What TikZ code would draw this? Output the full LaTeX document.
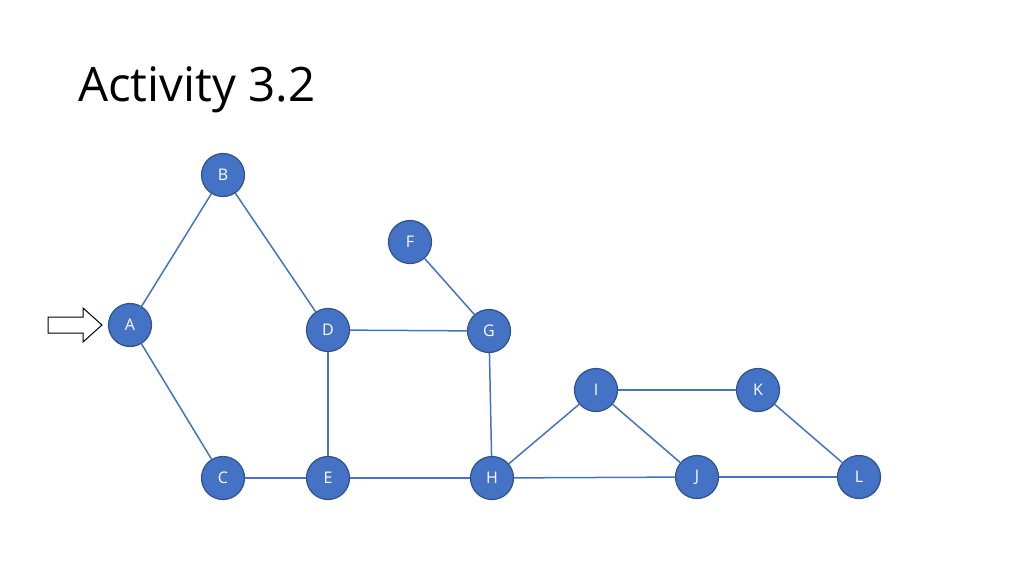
\documentclass[tikz,border=0pt]{standalone}
\usepackage{fontspec}
\setmainfont{Open Sans}
\begin{document}
\begin{tikzpicture}[x=1pt,y=-1pt,
  vert/.style={circle,fill=nodeblue,draw=nodeedge,line width=1.2pt,minimum size=43pt,inner sep=0pt,text=white,font=\fontsize{16}{16}\selectfont},
  edge/.style={draw=nodeblue,line width=1.5pt}]
\definecolor{nodeblue}{HTML}{4472C4}
\definecolor{nodeedge}{HTML}{2F528F}
\useasboundingbox (0,0) rectangle (1024,575);
\node[anchor=base west,inner sep=0pt,font=\fontsize{47.5}{47.5}\selectfont] (title) at (78,102) {Activity 3.2};
\node[vert] (A) at (130,325) {A};
\node[vert] (B) at (223,175) {B};
\node[vert] (C) at (223,478) {C};
\node[vert] (D) at (328,330) {D};
\node[vert] (E) at (328,478) {E};
\node[vert] (F) at (410,242) {F};
\node[vert] (G) at (489,331) {G};
\node[vert] (H) at (492,478) {H};
\node[vert] (I) at (596,390) {I};
\node[vert] (J) at (697,477) {J};
\node[vert] (K) at (758,390) {K};
\node[vert] (L) at (859,477) {L};
\draw[edge] (A) -- (B);
\draw[edge] (A) -- (C);
\draw[edge] (B) -- (D);
\draw[edge] (C) -- (E);
\draw[edge] (D) -- (E);
\draw[edge] (D) -- (G);
\draw[edge] (F) -- (G);
\draw[edge] (G) -- (H);
\draw[edge] (E) -- (H);
\draw[edge] (H) -- (I);
\draw[edge] (H) -- (J);
\draw[edge] (I) -- (J);
\draw[edge] (I) -- (K);
\draw[edge] (J) -- (L);
\draw[edge] (K) -- (L);
\coordinate (arrowtip) at (102,325);
\draw[line width=1pt,fill=white,line join=miter] (48,317) -- (83,317) -- (83,308) -- (arrowtip) -- (83,342) -- (83,333) -- (48,333) -- cycle;
\end{tikzpicture}
\end{document}
